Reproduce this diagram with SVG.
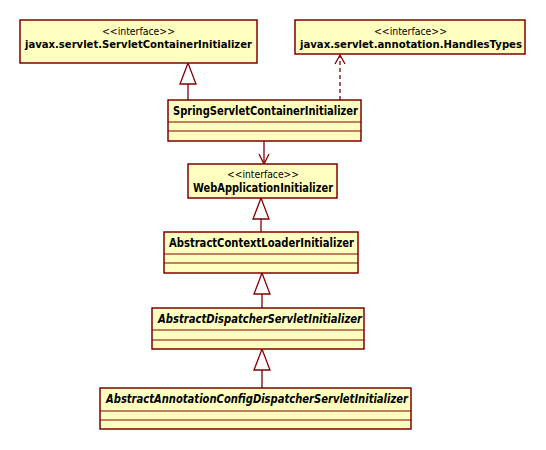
<svg xmlns="http://www.w3.org/2000/svg" width="546" height="450" viewBox="0 0 546 450">
<style>
.box{fill:#ffffc0;stroke:#800000;stroke-width:1.5}
.sep{stroke:#800000;stroke-width:1.2}
.ln{fill:none;stroke:#800000;stroke-width:1.3}
.tri{fill:#ffffff;stroke:#800000;stroke-width:1.3}
.dash{fill:none;stroke:#800000;stroke-width:1.3;stroke-dasharray:4,3}
.st{font-family:"DejaVu Sans",Verdana,sans-serif;font-size:10.5px;fill:#000}
.nm{font-family:"DejaVu Sans",Verdana,sans-serif;font-size:11.5px;font-weight:bold;fill:#000}
.nm2{font-family:"DejaVu Sans",Verdana,sans-serif;font-size:11px;font-weight:bold;fill:#000}
.it{font-style:italic}
</style>
<rect width="546" height="450" fill="#ffffff"/>
<g id="connectors">
  <line class="ln" x1="188" y1="84" x2="188" y2="100"/>
  <polygon class="tri" points="188,63 180,84 196,84"/>
  <line class="dash" x1="340" y1="100" x2="340" y2="56"/>
  <polyline class="ln" points="335,64 340,55 345,64"/>
  <line class="ln" x1="264" y1="141" x2="264" y2="164"/>
  <polyline class="ln" points="259,154 264,164 269,154"/>
  <line class="ln" x1="261" y1="219" x2="261" y2="232"/>
  <polygon class="tri" points="261,198 253,219 269,219"/>
  <line class="ln" x1="262" y1="294" x2="262" y2="308"/>
  <polygon class="tri" points="262,273 254,294 270,294"/>
  <line class="ln" x1="262" y1="370" x2="262" y2="388"/>
  <polygon class="tri" points="262,349 254,370 270,370"/>
</g>
<g id="ServletContainerInitializer">
  <rect class="box" x="20" y="20" width="237" height="43"/>
  <text class="st" x="138.5" y="35" text-anchor="middle" textLength="73" lengthAdjust="spacingAndGlyphs">&lt;&lt;interface&gt;&gt;</text>
  <text class="nm2" x="138.5" y="48" text-anchor="middle" textLength="227" lengthAdjust="spacingAndGlyphs">javax.servlet.ServletContainerInitializer</text>
</g>
<g id="HandlesTypes">
  <rect class="box" x="295" y="20" width="230" height="34"/>
  <text class="st" x="410.5" y="35" text-anchor="middle" textLength="73" lengthAdjust="spacingAndGlyphs">&lt;&lt;interface&gt;&gt;</text>
  <text class="nm2" x="411" y="48" text-anchor="middle" textLength="222" lengthAdjust="spacingAndGlyphs">javax.servlet.annotation.HandlesTypes</text>
</g>
<g id="SpringServletContainerInitializer">
  <rect class="box" x="168" y="100" width="193" height="41"/>
  <line class="sep" x1="168" y1="122" x2="361" y2="122"/>
  <line class="sep" x1="168" y1="131" x2="361" y2="131"/>
  <text class="nm" x="265.5" y="115" text-anchor="middle" textLength="185" lengthAdjust="spacingAndGlyphs">SpringServletContainerInitializer</text>
</g>
<g id="WebApplicationInitializer">
  <rect class="box" x="188" y="164" width="149" height="34"/>
  <text class="st" x="263" y="178" text-anchor="middle" textLength="72" lengthAdjust="spacingAndGlyphs">&lt;&lt;interface&gt;&gt;</text>
  <text class="nm" x="263" y="192" text-anchor="middle" textLength="140" lengthAdjust="spacingAndGlyphs">WebApplicationInitializer</text>
</g>
<g id="AbstractContextLoaderInitializer">
  <rect class="box" x="164" y="232" width="194" height="41"/>
  <line class="sep" x1="164" y1="254" x2="358" y2="254"/>
  <line class="sep" x1="164" y1="263" x2="358" y2="263"/>
  <text class="nm" x="261.5" y="247" text-anchor="middle" textLength="185" lengthAdjust="spacingAndGlyphs">AbstractContextLoaderInitializer</text>
</g>
<g id="AbstractDispatcherServletInitializer">
  <rect class="box" x="152" y="308" width="212" height="41"/>
  <line class="sep" x1="152" y1="330" x2="364" y2="330"/>
  <line class="sep" x1="152" y1="340" x2="364" y2="340"/>
  <text class="nm it" x="260" y="323" text-anchor="middle" textLength="204" lengthAdjust="spacingAndGlyphs">AbstractDispatcherServletInitializer</text>
</g>
<g id="AbstractAnnotationConfigDispatcherServletInitializer">
  <rect class="box" x="100" y="388" width="311" height="41"/>
  <line class="sep" x1="100" y1="411" x2="411" y2="411"/>
  <line class="sep" x1="100" y1="420" x2="411" y2="420"/>
  <text class="nm it" x="257" y="403" text-anchor="middle" textLength="302" lengthAdjust="spacingAndGlyphs">AbstractAnnotationConfigDispatcherServletInitializer</text>
</g>
</svg>
